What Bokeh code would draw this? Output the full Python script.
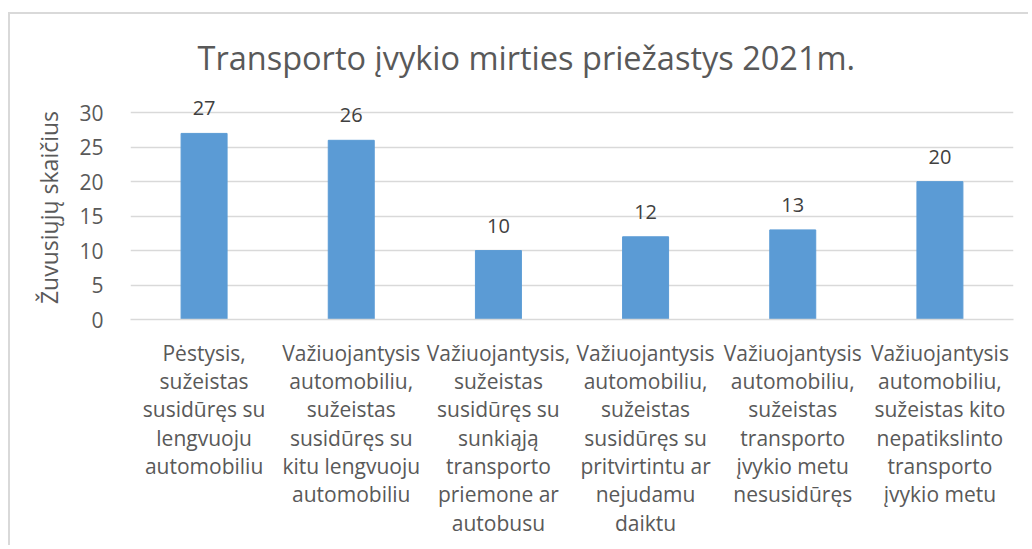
from bokeh.plotting import figure
from bokeh.models import Label, FixedTicker, Range1d
from bokeh.embed import file_html
from bokeh.resources import INLINE

title_text = "Transporto įvykio mirties priežastys 2021m."
y_label = "Žuvusiųjų skaičius"
categories = [
    "Pėstysis,\nsužeistas\nsusidūręs su\nlengvuoju\nautomobiliu",
    "Važiuojantysis\nautomobiliu,\nsužeistas\nsusidūręs su\nkitu lengvuoju\nautomobiliu",
    "Važiuojantysis,\nsužeistas\nsusidūręs su\nsunkiąją\ntransporto\npriemone ar\nautobusu",
    "Važiuojantysis\nautomobiliu,\nsužeistas\nsusidūręs su\npritvirtintu ar\nnejudamu\ndaiktu",
    "Važiuojantysis\nautomobiliu,\nsužeistas\ntransporto\nįvykio metu\nnesusidūręs",
    "Važiuojantysis\nautomobiliu,\nsužeistas kito\nnepatikslinto\ntransporto\nįvykio metu",
]
values = [27, 26, 10, 12, 13, 20]
y_ticks = [0, 5, 10, 15, 20, 25, 30]

FONT = "Open Sans"
GRAY = "#595959"

p = figure(
    x_range=categories,
    y_range=Range1d(0, 32.5),
    width=1020,
    height=533,
    output_backend="svg",
    toolbar_location=None,
    min_border_left=120,
    min_border_right=17,
    min_border_top=81,
    min_border_bottom=228,
)
p.styles = {"border-top": "2px solid #d9d9d9", "border-left": "2px solid #d9d9d9",
            "margin-top": "12px", "margin-left": "8px"}

p.title.text = title_text
p.title.align = "left"
p.title.offset = 67
p.title.text_font = FONT
p.title.text_font_size = "32.5px"
p.title.text_font_style = "normal"
p.title.text_color = GRAY
p.title.standoff = 32

p.vbar(x=categories, top=values, width=0.3125, color="#5B9BD5")

# value labels: categorical synthetic coordinate i + 0.5 is the centre of factor i
for i, v in enumerate(values):
    p.add_layout(Label(x=i + 0.5, y=v, text=str(v), text_align="center",
                       text_baseline="middle", y_offset=25, text_font=FONT,
                       text_font_size="20px", text_color="#404040"))

p.outline_line_color = None
p.background_fill_color = "white"
p.border_fill_color = "white"

p.xgrid.grid_line_color = None
p.ygrid.grid_line_color = "#d9d9d9"
p.ygrid.grid_line_width = 1.5

p.yaxis.ticker = FixedTicker(ticks=y_ticks)
p.yaxis.axis_line_color = None
p.yaxis.major_tick_line_color = None
p.yaxis.minor_tick_line_color = None
p.yaxis.major_label_text_font = FONT
p.yaxis.major_label_text_font_size = "21px"
p.yaxis.major_label_text_color = GRAY
p.yaxis.major_label_standoff = 21
p.yaxis.axis_label = y_label
p.yaxis.axis_label_text_font = FONT
p.yaxis.axis_label_text_font_size = "23px"
p.yaxis.axis_label_text_font_style = "normal"
p.yaxis.axis_label_text_color = GRAY
p.yaxis.axis_label_standoff = 11

p.xaxis.axis_line_color = "#d9d9d9"
p.xaxis.axis_line_width = 1.5
p.xaxis.major_tick_line_color = None
p.xaxis.minor_tick_line_color = None
p.xaxis.major_label_text_font = FONT
p.xaxis.major_label_text_font_size = "21px"
p.xaxis.major_label_text_color = GRAY
p.xaxis.major_label_text_line_height = 1.014
p.xaxis.major_label_standoff = 13
p.xaxis.major_label_orientation = "horizontal"

open("out.html", "w").write(file_html(p, INLINE))
